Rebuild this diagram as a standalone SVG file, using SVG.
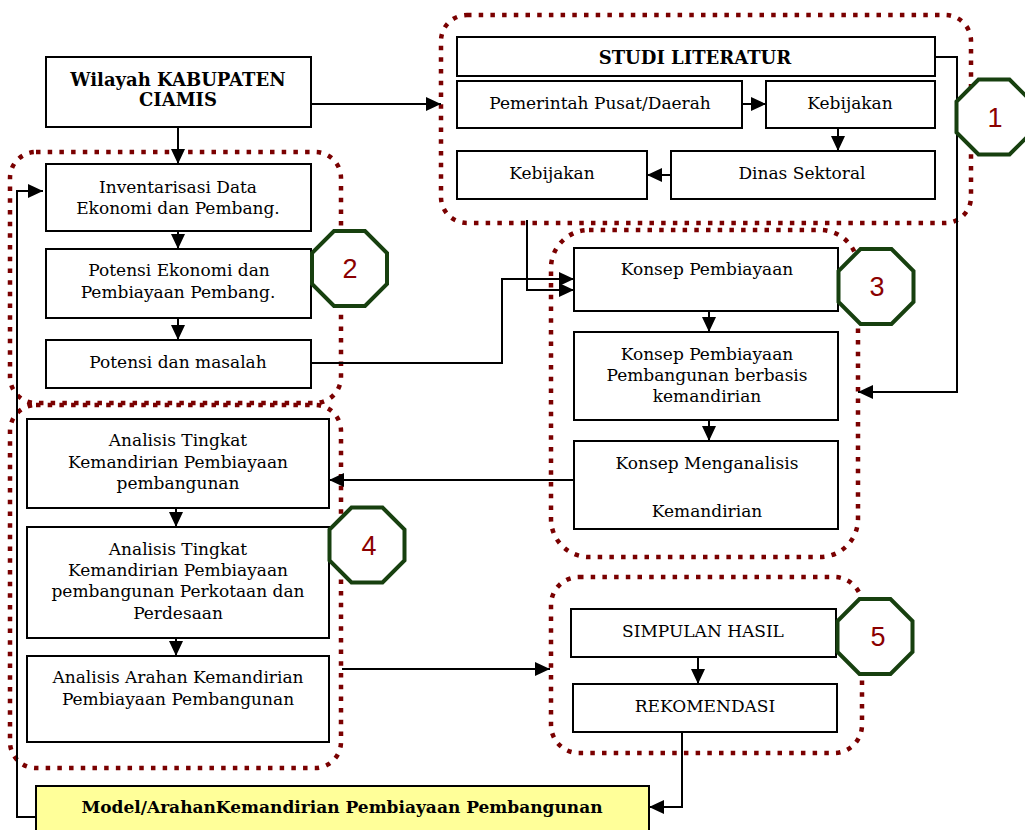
<svg xmlns="http://www.w3.org/2000/svg" width="1025" height="830" viewBox="0 0 1025 830">
<defs>
<style>
.grp{fill:none;stroke:#7a0000;stroke-width:4.5;stroke-dasharray:4.5 7.2}
.box{fill:#fff;stroke:#000;stroke-width:2}
.yel{fill:#ffff99;stroke:#000;stroke-width:2}
.t{font-family:"DejaVu Serif","Liberation Serif",serif;font-size:17px;fill:#000;text-anchor:middle}
.b{font-family:"DejaVu Serif","Liberation Serif",serif;font-size:18px;font-weight:bold;fill:#000;text-anchor:middle}
.oct{fill:#fff;stroke:#17400f;stroke-width:4}
.num{font-family:"Liberation Sans","Open Sans",sans-serif;font-size:27px;fill:#8b0000;text-anchor:middle}
.c{fill:none;stroke:#000;stroke-width:2}
</style>
<marker id="ah" markerUnits="userSpaceOnUse" markerWidth="15" markerHeight="14" refX="15" refY="7" orient="auto">
<path d="M0,0 L15,7 L0,14 z" fill="#000"/>
</marker>
</defs>
<rect width="1025" height="830" fill="#fff"/>

<g id="groups">
<rect class="grp" x="441" y="15" width="530" height="208" rx="26"/>
<rect class="grp" x="10" y="152" width="331" height="251" rx="26"/>
<rect class="grp" x="551" y="230" width="307" height="327" rx="38"/>
<rect class="grp" x="10" y="405" width="331" height="363" rx="26"/>
<rect class="grp" x="551" y="577" width="311" height="176" rx="28"/>
</g>

<g id="connectors">
<path class="c" d="M311,104 H441" marker-end="url(#ah)"/>
<path class="c" d="M178,127 V164" marker-end="url(#ah)"/>
<path class="c" d="M178,231 V249" marker-end="url(#ah)"/>
<path class="c" d="M178,318 V340" marker-end="url(#ah)"/>
<path class="c" d="M311,363 H502 V279 H574" marker-end="url(#ah)"/>
<path class="c" d="M527,220 V290 H574" marker-end="url(#ah)"/>
<path class="c" d="M742,104 H766" marker-end="url(#ah)"/>
<path class="c" d="M838,128 V151" marker-end="url(#ah)"/>
<path class="c" d="M671,175 H647" marker-end="url(#ah)"/>
<path class="c" d="M935,57 H957 V392 H858" marker-end="url(#ah)"/>
<path class="c" d="M709,311 V332" marker-end="url(#ah)"/>
<path class="c" d="M709,420 V441" marker-end="url(#ah)"/>
<path class="c" d="M574,480 H329" marker-end="url(#ah)"/>
<path class="c" d="M176,508 V527" marker-end="url(#ah)"/>
<path class="c" d="M176,638 V656" marker-end="url(#ah)"/>
<path class="c" d="M342,669 H550" marker-end="url(#ah)"/>
<path class="c" d="M698,657 V684" marker-end="url(#ah)"/>
<path class="c" d="M682,732 V807 H649" marker-end="url(#ah)"/>
<path class="c" d="M36,817 H17 V191 H43" marker-end="url(#ah)"/>
</g>

<g id="wilayah"><rect class="box" x="46" y="57" width="265" height="70"/>
<text class="b" x="178" y="86">Wilayah KABUPATEN</text><text class="b" x="178" y="106">CIAMIS</text></g>

<g id="inventarisasi"><rect class="box" x="46" y="164" width="265" height="67"/>
<text class="t" x="178" y="193">Inventarisasi Data</text><text class="t" x="178" y="214">Ekonomi dan Pembang.</text></g>

<g id="potensi-ekonomi"><rect class="box" x="46" y="249" width="265" height="69"/>
<text class="t" x="179" y="276">Potensi Ekonomi dan</text><text class="t" x="178" y="298">Pembiayaan Pembang.</text></g>

<g id="potensi-masalah"><rect class="box" x="46" y="340" width="265" height="48"/>
<text class="t" x="178" y="368">Potensi dan masalah</text></g>

<g id="studi"><rect class="box" x="457" y="37" width="478" height="39"/>
<text class="b" x="695" y="64">STUDI LITERATUR</text></g>

<g id="pemerintah"><rect class="box" x="457" y="81" width="285" height="47"/>
<text class="t" x="600" y="109">Pemerintah Pusat/Daerah</text></g>

<g id="kebijakan1"><rect class="box" x="766" y="81" width="169" height="47"/>
<text class="t" x="850" y="109">Kebijakan</text></g>

<g id="dinas"><rect class="box" x="671" y="151" width="264" height="48"/>
<text class="t" x="802" y="179">Dinas Sektoral</text></g>

<g id="kebijakan2"><rect class="box" x="457" y="151" width="190" height="48"/>
<text class="t" x="552" y="179">Kebijakan</text></g>

<g id="konsep-pembiayaan"><rect class="box" x="574" y="248" width="264" height="63"/>
<text class="t" x="707" y="275">Konsep Pembiayaan</text></g>

<g id="konsep-kemandirian"><rect class="box" x="574" y="332" width="264" height="88"/>
<text class="t" x="707" y="360">Konsep Pembiayaan</text><text class="t" x="707" y="381">Pembangunan berbasis</text><text class="t" x="707" y="402">kemandirian</text></g>

<g id="konsep-menganalisis"><rect class="box" x="574" y="441" width="264" height="88"/>
<text class="t" x="707" y="469">Konsep Menganalisis</text><text class="t" x="707" y="517">Kemandirian</text></g>

<g id="analisis1"><rect class="box" x="27" y="419" width="302" height="89"/>
<text class="t" x="178" y="446">Analisis Tingkat</text><text class="t" x="178" y="468">Kemandirian Pembiayaan</text><text class="t" x="178" y="489">pembangunan</text></g>

<g id="analisis2"><rect class="box" x="27" y="527" width="302" height="111"/>
<text class="t" x="178" y="555">Analisis Tingkat</text><text class="t" x="178" y="576">Kemandirian Pembiayaan</text><text class="t" x="178" y="597">pembangunan Perkotaan dan</text><text class="t" x="178" y="619">Perdesaan</text></g>

<g id="analisis3"><rect class="box" x="27" y="656" width="302" height="86"/>
<text class="t" x="178" y="683">Analisis Arahan Kemandirian</text><text class="t" x="178" y="705">Pembiayaan Pembangunan</text></g>

<g id="simpulan"><rect class="box" x="571" y="609" width="265" height="48"/>
<text class="t" x="703" y="637">SIMPULAN HASIL</text></g>

<g id="rekomendasi"><rect class="box" x="573" y="684" width="264" height="48"/>
<text class="t" x="705" y="712">REKOMENDASI</text></g>

<g id="model"><rect class="yel" x="36" y="786" width="613" height="50"/>
<text class="b" x="342" y="813" style="font-size:17px">Model/ArahanKemandirian Pembiayaan Pembangunan</text></g>

<g id="oct1"><polygon class="oct" points="978.5,79.5 1009.5,79.5 1031.5,101.5 1031.5,132.5 1009.5,154.5 978.5,154.5 956.5,132.5 956.5,101.5"/><text class="num" x="995" y="127">1</text></g>
<g id="oct2"><polygon class="oct" points="334,231 365,231 387,253 387,284 365,306 334,306 312,284 312,253"/><text class="num" x="350" y="278">2</text></g>
<g id="oct3"><polygon class="oct" points="860.5,249 891.5,249 913.5,271 913.5,302 891.5,324 860.5,324 838.5,302 838.5,271"/><text class="num" x="877" y="296">3</text></g>
<g id="oct4"><polygon class="oct" points="351.5,507.5 382.5,507.5 404.5,529.5 404.5,560.5 382.5,582.5 351.5,582.5 329.5,560.5 329.5,529.5"/><text class="num" x="369" y="555">4</text></g>
<g id="oct5"><polygon class="oct" points="859.5,599 890.5,599 912.5,621 912.5,652 890.5,674 859.5,674 837.5,652 837.5,621"/><text class="num" x="878" y="646">5</text></g>
</svg>
